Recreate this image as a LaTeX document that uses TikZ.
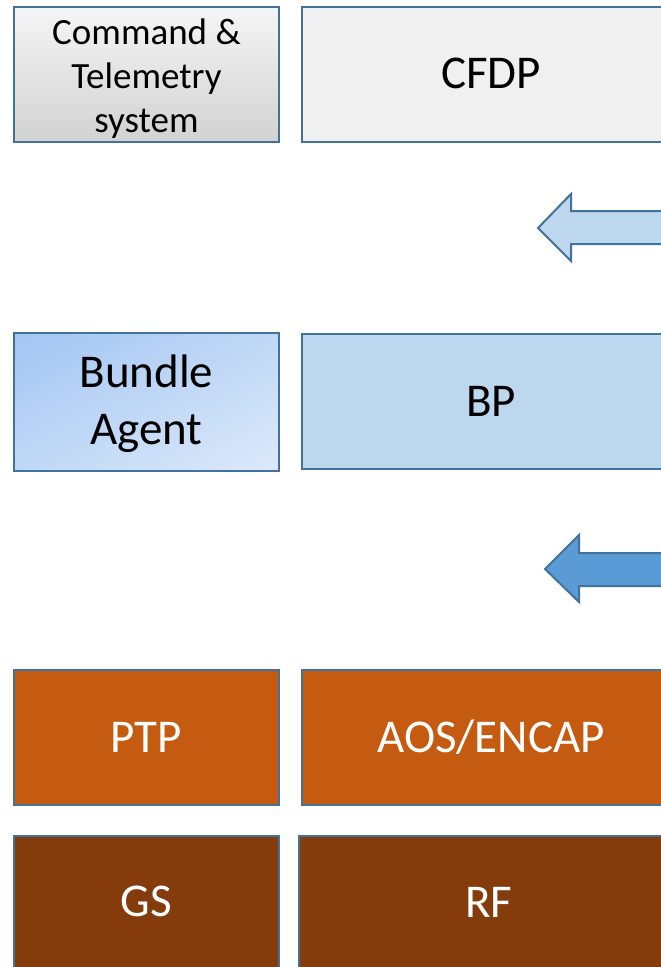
\documentclass[tikz,border=0pt]{standalone}
\usepackage{fontspec}
\setmainfont{Carlito}
\usetikzlibrary{shadings}
\definecolor{edge}{HTML}{41719C}
\definecolor{bpblue}{HTML}{BDD7EE}
\definecolor{arrowdark}{HTML}{5B9BD5}
\definecolor{orangebox}{HTML}{C55A11}
\definecolor{brownbox}{HTML}{843C0C}
\definecolor{graytop}{HTML}{F5F5F5}
\definecolor{graybot}{HTML}{D2D2D2}
\definecolor{cfdpgray}{HTML}{F0F0F0}
\definecolor{agentA}{HTML}{A2C5F3}
\definecolor{agentB}{HTML}{DDE9FA}
\definecolor{agentM}{HTML}{C0D8F6}
\newcommand{\placetext}[2]{\raisebox{#1}[0pt][0pt]{#2}}
\begin{document}
\begin{tikzpicture}[x=1pt,y=-1pt,
  box/.style={draw=edge, line width=2pt, inner sep=0pt,
    font=\fontsize{47}{57}\selectfont},
  leftbox/.style={box, minimum width=265pt, minimum height=135pt},
  rightbox/.style={box, minimum width=378pt, minimum height=135pt},
  blockarrow/.style={draw=edge, line width=2pt, line join=miter}]
\useasboundingbox (0,0) rectangle (661,967);
\clip (0,0) rectangle (661,967);
% row 1
\node[leftbox, top color=graytop, bottom color=graybot,
  font=\fontsize{37}{44}\selectfont] (ct) at (146.5,74.5)
  {\placetext{30pt}{\begin{tabular}[t]{@{}c@{}}Command \&\\Telemetry\\system\end{tabular}}};
\node[rightbox, fill=cfdpgray] (cfdp) at (491,74) {\placetext{-14pt}{CFDP}};
% arrow 1
\path[blockarrow, fill=bpblue] (538,228) -- (571,194) -- (571,211) -- (690,211)
  -- (690,244) -- (571,244) -- (571,261) -- cycle;
% row 2
\node[leftbox, minimum height=138pt, upper left=agentA, upper right=agentM,
  lower left=agentM, lower right=agentB] (agent) at (146.5,402)
  {\placetext{14.3pt}{\begin{tabular}[t]{@{}c@{}}Bundle\\Agent\end{tabular}}};
\node[rightbox, fill=bpblue] (bp) at (491,401) {\placetext{-15pt}{BP}};
% arrow 2
\path[blockarrow, fill=arrowdark] (545,569) -- (579,535) -- (579,553) -- (690,553)
  -- (690,586) -- (579,586) -- (579,602) -- cycle;
% row 3
\node[leftbox, fill=orangebox, text=white] (ptp) at (146.5,737) {\placetext{-15pt}{PTP}};
\node[rightbox, fill=orangebox, text=white] (aos) at (491,737) {\placetext{-15pt}{AOS/ENCAP}};
% row 4
\node[leftbox, fill=brownbox, text=white] (gs) at (146.5,903) {\placetext{-13pt}{GS}};
\node[rightbox, minimum width=380pt, fill=brownbox, text=white] (rf) at (489,903) {\placetext{-14pt}{RF}};
\end{tikzpicture}
\end{document}
